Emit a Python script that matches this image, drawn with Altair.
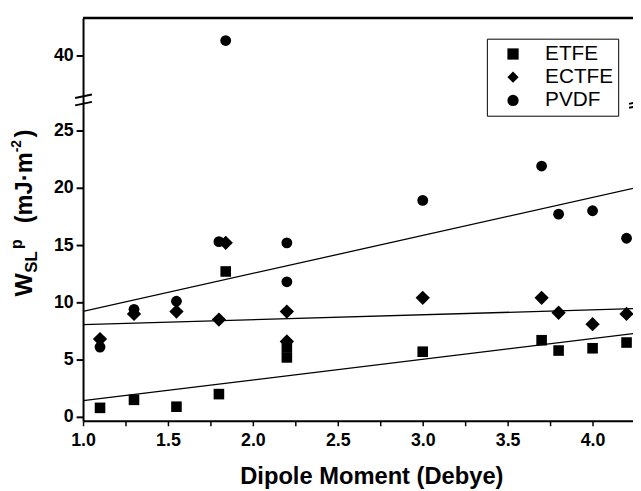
import altair as alt
import pandas as pd

# ---------------- data ----------------
series_names = ["ETFE", "ECTFE", "PVDF"]
series_shapes = ["square", "diamond", "circle"]
series_sizes = [115, 210, 120]

etfe_x = [1.1, 1.3, 1.55, 1.8, 1.84, 2.2, 2.2, 3.0, 3.7, 3.8, 4.0, 4.2]
etfe_y = [0.8, 1.5, 0.9, 2.0, 12.7, 5.2, 6.1, 5.7, 6.7, 5.8, 6.0, 6.5]

ectfe_x = [1.1, 1.3, 1.55, 1.8, 1.84, 2.2, 2.2, 3.0, 3.7, 3.8, 4.0, 4.2]
ectfe_y = [6.8, 9.0, 9.2, 8.5, 15.2, 9.2, 6.6, 10.4, 10.4, 9.1, 8.1, 9.0]

pvdf_x = [1.1, 1.3, 1.55, 1.8, 1.84, 2.2, 2.2, 3.0, 3.7, 3.8, 4.0, 4.2]
pvdf_y = [6.1, 9.4, 10.1, 15.3, 41.3, 15.2, 11.8, 18.9, 21.9, 17.7, 18.0, 15.6]

# fitted straight lines (value at the two ends of the x range)
fit_x = [1.0, 4.24]
etfe_fit = [1.43, 7.28]
ectfe_fit = [8.07, 9.45]
pvdf_fit = [9.22, 19.95]

x_tick_values = [1.0, 1.25, 1.5, 1.75, 2.0, 2.25, 2.5, 2.75, 3.0, 3.25, 3.5, 3.75, 4.0]
y_tick_values = [0, 5, 10, 15, 20, 25, 40]

# broken y axis: values above the break are shifted down by this gap
break_above = 30
break_gap = 8.45

def to_plot(v):
    return v - break_gap if v > break_above else v

# ---------------- tables ----------------
series_data = [("ETFE", etfe_x, etfe_y), ("ECTFE", ectfe_x, ectfe_y), ("PVDF", pvdf_x, pvdf_y)]

fit_rows = []
for name, ys in [("ETFE", etfe_fit), ("ECTFE", ectfe_fit), ("PVDF", pvdf_fit)]:
    for xv, yv in zip(fit_x, ys):
        fit_rows.append({"series": name, "x": xv, "y": yv})
fit_df = pd.DataFrame(fit_rows)

one = pd.DataFrame({"a": [0]})

W, H = 557, 408
FONT = "Liberation Sans"

y_ticks_plot = [to_plot(v) for v in y_tick_values]

X = alt.X(
    "x:Q",
    scale=alt.Scale(domain=[1.0, 4.238], nice=False, zero=False),
    axis=alt.Axis(
        values=x_tick_values,
        labelExpr="(datum.value * 2) % 1 == 0 ? format(datum.value, '.1f') : ''",
        title="Dipole Moment (Debye)",
        grid=False,
        domainColor="black", domainWidth=2,
        tickColor="black", tickWidth=1.5, tickSize=5,
        labelFont=FONT, labelFontSize=18, labelFontWeight="bold", labelColor="black",
        labelPadding=6, labelFlush=False, labelOverlap=False,
        titleFont=FONT, titleFontSize=24, titleFontWeight="bold", titleColor="black",
        titleX=292, titleY=63, titleBaseline="alphabetic", titleAlign="center", titleAnchor="start",
    ),
)
Y = alt.Y(
    "y:Q",
    scale=alt.Scale(domain=[-0.33, 34.82], nice=False, zero=False),
    axis=alt.Axis(
        values=y_ticks_plot,
        labelExpr="datum.value > 28 ? '40' : format(datum.value, 'd')",
        title=None,
        grid=False,
        domainColor="black", domainWidth=2,
        tickColor="black", tickWidth=2, tickSize=7,
        labelFont=FONT, labelFontSize=18, labelFontWeight="bold", labelColor="black",
        labelPadding=3, labelOverlap=False,
    ),
)

SHAPE = alt.Shape(
    "series:N",
    scale=alt.Scale(domain=series_names, range=series_shapes),
    legend=alt.Legend(
        title=None, orient="none", legendX=409, legendY=21, direction="vertical",
        labelFont=FONT, labelFontSize=21, labelColor="black",
        symbolFillColor="black", symbolStrokeColor="black", symbolOpacity=1,
        symbolSize=130, strokeColor="black", fillColor="white",
        padding=5, rowPadding=1.5, symbolOffset=11, labelOffset=22,
    ),
)

lines = alt.Chart(fit_df).mark_line(color="black", strokeWidth=1.3, clip=True).encode(
    x=X, y=Y, detail="series:N"
)

point_layers = []
for (name, xs, ys), size in zip(series_data, series_sizes):
    df = pd.DataFrame({"series": name, "x": xs, "y": [to_plot(v) for v in ys]})
    point_layers.append(
        alt.Chart(df).mark_point(filled=True, color="black", opacity=1, size=size).encode(
            x=X, y=Y, shape=SHAPE
        )
    )

top_border = alt.Chart(one).mark_rule(color="black", strokeWidth=2.5).encode(
    x=alt.value(0), x2=alt.value(W), y=alt.value(0)
)

def slash(x1, y1, x2, y2):
    return alt.Chart(one).mark_rule(color="black", strokeWidth=2).encode(
        x=alt.value(x1), y=alt.value(y1), x2=alt.value(x2), y2=alt.value(y2)
    )

breaks = [
    slash(-8, 81, 9, 77.5),
    slash(-8, 88.5, 9, 85),
    slash(553, 87, 571, 83),
    slash(553, 91, 571, 87),
]

def ttext(txt, x, y, size):
    return alt.Chart(one).mark_text(
        text=txt, angle=270, align="left", baseline="alphabetic",
        font=FONT, fontSize=size, fontWeight="bold", color="black",
    ).encode(x=alt.value(x), y=alt.value(y))

y_title = [
    ttext("W", -52, 282, 25),
    ttext("SL", -47, 258, 17),
    ttext("p", -62, 234, 16),
    ttext("(mJ·m", -52, 208, 24),
    ttext("-2", -63, 136, 14),
    ttext(")", -52, 121, 24),
]

chart = alt.layer(lines, *point_layers, top_border, *breaks, *y_title).properties(
    width=W, height=H,
    autosize=alt.AutoSizeParams(type="none"),
    padding={"left": 76, "top": 7, "right": 0, "bottom": 68},
).configure_view(stroke=None).configure(background="white")

chart.save("out.html", embed_options={"renderer": "svg", "actions": False})
